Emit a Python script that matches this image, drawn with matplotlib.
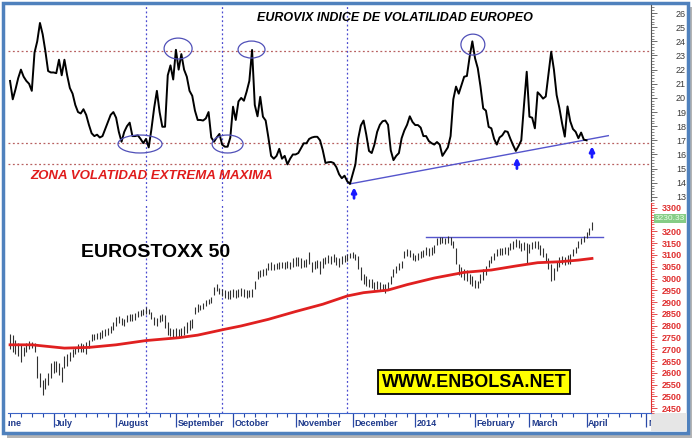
import numpy as np
import matplotlib
matplotlib.use("Agg")
import matplotlib.pyplot as plt
from matplotlib.patches import Ellipse, Rectangle
from matplotlib.ticker import AutoMinorLocator
import matplotlib.transforms as mtransforms

plt.rcParams["font.family"] = ["Liberation Sans", "DejaVu Sans"]

# first trading day shown; every series below is one value per trading day from here
start = "2013-06-07"

vix = [
    21.2, 19.9, 20.6, 21.4, 22.0, 21.5, 21.2, 21.0, 20.5, 23.2,
    24.0, 25.3, 24.5, 23.3, 21.9, 21.8, 21.8, 21.75, 22.7, 21.6,
    22.7, 21.6, 20.7, 20.3, 19.5, 19.0, 18.9, 19.2, 18.8, 18.1,
    17.5, 17.3, 17.4, 17.2, 17.3, 17.8, 18.3, 18.8, 19.0, 18.6,
    17.6, 16.9, 17.6, 18.0, 18.25, 17.3, 17.3, 17.35, 17.1, 16.8,
    17.1, 16.5, 17.8, 19.3, 20.5, 19.0, 17.96, 17.96, 21.6, 22.3,
    21.3, 23.4, 22.0, 23.1, 22.0, 21.5, 20.5, 20.15, 19.1, 18.44,
    18.44, 18.4, 18.55, 19.0, 17.2, 16.9, 17.2, 17.45, 16.7, 16.55,
    16.55, 17.2, 19.38, 18.44, 19.75, 20.0, 19.8, 20.44, 21.2, 23.39,
    19.5, 18.7, 20.08, 18.67, 18.4, 17.2, 15.9, 15.7, 15.9, 16.4,
    15.7, 15.9, 15.3, 15.7, 16.0, 16.0, 16.1, 16.45, 16.79, 16.79,
    17.1, 17.2, 17.25, 17.25, 17.0, 16.3, 15.4, 15.45, 15.47, 15.4,
    15.1, 14.6, 14.32, 14.5, 14.1, 13.92, 14.6, 15.3, 17.1, 18.05,
    18.4, 17.4, 16.25, 16.1, 16.7, 17.6, 18.1, 18.35, 18.4, 18.1,
    16.3, 15.6, 15.9, 16.1, 17.15, 17.7, 18.1, 18.7, 18.3, 18.08,
    18.08, 17.9, 17.3, 17.3, 16.95, 16.8, 16.7, 16.88, 16.7, 15.9,
    16.2, 16.5, 17.3, 19.9, 20.8, 20.3, 20.9, 21.5, 21.55, 22.9,
    24.0, 22.8, 22.1, 20.8, 19.26, 19.1, 17.95, 17.85, 17.1, 16.7,
    17.2, 17.35, 17.65, 17.6, 17.1, 16.65, 16.25, 16.6, 17.0, 19.5,
    21.85, 18.67, 18.6, 17.85, 20.4, 20.2, 19.95, 20.1, 21.7, 23.27,
    22.0, 20.2, 19.3, 18.2, 17.26, 19.4, 18.35, 17.8, 17.6, 17.15,
    17.55, 17.05, 17.0,
]

stoxx_high = [
    2765, 2760, 2740, 2725, 2720, 2710, 2728, 2735, 2730, 2725,
    2670, 2600, 2570, 2580, 2600, 2640, 2650, 2650, 2640, 2625,
    2670, 2680, 2690, 2700, 2710, 2722, 2725, 2722, 2730, 2740,
    2765, 2765, 2770, 2775, 2780, 2785, 2790, 2800, 2815, 2835,
    2840, 2832, 2830, 2845, 2848, 2850, 2855, 2862, 2868, 2870,
    2878, 2872, 2860, 2835, 2832, 2845, 2850, 2845, 2815, 2790,
    2785, 2790, 2788, 2790, 2800, 2815, 2825, 2830, 2880, 2890,
    2888, 2895, 2910, 2915, 2920, 2965, 2975, 2960, 2955, 2950,
    2945, 2950, 2955, 2952, 2955, 2958, 2955, 2950, 2952, 2955,
    2990, 3030, 3035, 3040, 3045, 3065, 3068, 3062, 3065, 3068,
    3072, 3070, 3075, 3072, 3085, 3090, 3092, 3085, 3080, 3082,
    3112, 3070, 3075, 3080, 3075, 3085, 3092, 3098, 3095, 3102,
    3092, 3085, 3095, 3100, 3105, 3110, 3112, 3105, 3095, 3050,
    3020, 3010, 3000, 2998, 2985, 2990, 2985, 2978, 2975, 2985,
    3010, 3040, 3055, 3065, 3075, 3115, 3125, 3120, 3110, 3100,
    3108, 3115, 3122, 3135, 3130, 3132, 3140, 3172, 3178, 3175,
    3172, 3180, 3175, 3160, 3130, 3060, 3050, 3040, 3035, 3020,
    3010, 2995, 2990, 3020, 3040, 3055, 3080, 3095, 3110, 3125,
    3130, 3128, 3135, 3132, 3150, 3160, 3168, 3165, 3150, 3155,
    3150, 3145, 3155, 3160, 3158, 3140, 3130, 3110, 3085, 3060,
    3045, 3070, 3090, 3095, 3092, 3098, 3105, 3125, 3135, 3160,
    3172, 3180, 3195, 3215, 3238,
]

stoxx_low = [
    2700, 2690, 2680, 2670, 2645, 2670, 2690, 2700, 2705, 2690,
    2580, 2540, 2505, 2530, 2550, 2580, 2600, 2605, 2590, 2560,
    2620, 2630, 2650, 2668, 2680, 2690, 2690, 2690, 2680, 2705,
    2735, 2740, 2742, 2745, 2748, 2755, 2760, 2770, 2780, 2800,
    2810, 2805, 2800, 2815, 2818, 2820, 2825, 2835, 2840, 2845,
    2850, 2848, 2830, 2805, 2800, 2815, 2820, 2790, 2760, 2755,
    2750, 2752, 2750, 2755, 2760, 2770, 2780, 2790, 2850, 2860,
    2865, 2870, 2885, 2890, 2895, 2930, 2945, 2935, 2925, 2918,
    2912, 2915, 2920, 2918, 2922, 2925, 2920, 2918, 2920, 2922,
    2955, 3000, 3005, 3010, 3015, 3035, 3038, 3035, 3040, 3040,
    3045, 3040, 3045, 3042, 3050, 3052, 3055, 3045, 3050, 3048,
    3060, 3028, 3040, 3045, 3020, 3045, 3060, 3065, 3060, 3070,
    3058, 3050, 3062, 3068, 3075, 3085, 3088, 3080, 3040, 2995,
    2975, 2970, 2962, 2958, 2950, 2955, 2950, 2945, 2940, 2950,
    2975, 3005, 3025, 3035, 3045, 3085, 3095, 3090, 3078, 3075,
    3080, 3085, 3090, 3100, 3095, 3100, 3110, 3140, 3148, 3150,
    3145, 3150, 3140, 3130, 3060, 3015, 3005, 2995, 2990, 2975,
    2968, 2960, 2958, 2980, 2995, 3015, 3050, 3065, 3080, 3095,
    3100, 3098, 3105, 3100, 3120, 3125, 3135, 3130, 3115, 3120,
    3065, 3110, 3125, 3128, 3125, 3100, 3090, 3070, 3040, 2990,
    2995, 3030, 3050, 3060, 3058, 3060, 3060, 3095, 3110, 3130,
    3145, 3155, 3170, 3185, 3205,
]

ma_dates = [
    "2013-06-07", "2013-06-19", "2013-07-05", "2013-07-18", "2013-08-01",
    "2013-08-16", "2013-09-03", "2013-09-12", "2013-09-26", "2013-10-04",
    "2013-10-18", "2013-11-01", "2013-11-15", "2013-11-28", "2013-12-06",
    "2013-12-19", "2013-12-30", "2014-01-13", "2014-01-28", "2014-02-11",
    "2014-02-24", "2014-03-06", "2014-03-18", "2014-03-27", "2014-04-03",
]
ma_vals = [
    2719, 2719, 2705, 2708, 2719, 2737, 2749, 2760, 2785, 2799,
    2827, 2860, 2891, 2926, 2940, 2951, 2974, 3002, 3026, 3036,
    3053, 3067, 3071, 3078, 3085,
]

vix_levels = [23.3, 16.8, 15.35]
vix_trend_dates = ["2013-11-29", "2014-04-11"]
vix_trend_vals = [13.92, 17.33]
stoxx_resist_dates = ["2014-01-08", "2014-04-09"]
stoxx_resist = 3175
marker_dates = ["2013-08-16", "2013-09-25", "2013-11-28"]
last_price = "3230.33"

month_starts = ["2013-06-03", "2013-07-01", "2013-08-01", "2013-09-02",
                "2013-10-01", "2013-11-01", "2013-12-02", "2014-01-02",
                "2014-02-03", "2014-03-03", "2014-04-01", "2014-05-01"]
month_labels = ["June", "July", "August", "September", "October", "November",
                "December", "2014", "February", "March", "April", "May"]


def pos(dates):
    return np.busday_count(start, np.array(dates, dtype="datetime64[D]"))


W, H = 699, 440


def fx(p):
    return p / W


def fy(p):
    return 1 - p / H


fig = plt.figure(figsize=(W / 100, H / 100), dpi=100)
fig.patch.set_facecolor("white")
fig.patches.append(Rectangle((fx(7), fy(438)), fx(692) - fx(7), fy(7) - fy(438),
                             transform=fig.transFigure, facecolor="#b4b4b4",
                             edgecolor="none", zorder=-3))
fig.patches.append(Rectangle((fx(3), fy(433)), fx(688) - fx(3), fy(3) - fy(433),
                             transform=fig.transFigure, facecolor="white",
                             edgecolor="#4f81bd", lw=2.5, zorder=-2))
fig.patches.append(Rectangle((fx(651), fy(431)), fx(687) - fx(651), fy(413) - fy(431),
                             transform=fig.transFigure, facecolor="#e6e6e6",
                             edgecolor="none", zorder=-1))

xl = (-0.75, 235.7)
ax1 = fig.add_axes([fx(8), fy(201), fx(651) - fx(8), fy(5) - fy(201)])
ax2 = fig.add_axes([fx(8), fy(413), fx(651) - fx(8), fy(203) - fy(413)])
ax3 = fig.add_axes([fx(8), fy(431), fx(651) - fx(8), fy(413) - fy(431)])

for ax in (ax1, ax2, ax3):
    ax.set_xlim(*xl)
    ax.set_xticks([])
    for s in ("top", "left", "bottom"):
        ax.spines[s].set_visible(False)
    ax.patch.set_alpha(0)

# ---- top panel: EUROVIX ----
ax1.set_ylim(12.71, 26.57)
ax1.yaxis.tick_right()
ax1.set_yticks(range(13, 27))
ax1.yaxis.set_minor_locator(AutoMinorLocator(5))
ax1.spines["right"].set_color("#555555")
ax1.tick_params(axis="y", which="major", length=4, width=0.6, color="#555555",
                labelcolor="#3a3a3a", labelsize=6.5, pad=14)
ax1.tick_params(axis="y", which="minor", length=2, width=0.5, color="#555555")

for lv in vix_levels:
    ax1.axhline(lv, color="#b86060", lw=0.9, ls=(0, (1.5, 2)))
for d in pos(marker_dates):
    ax1.axvline(d, color="#4a4ad0", lw=0.9, ls=(0, (1.5, 2)))
    ax2.axvline(d, color="#4a4ad0", lw=0.9, ls=(0, (1.5, 2)))

ax1.plot(np.arange(len(vix)), vix, color="black", lw=1.4, zorder=4)
ax1.plot(pos(vix_trend_dates), vix_trend_vals, color="#5555cc", lw=1.0, zorder=3)

for cx, cy, w, h in [(47.8, 16.74, 16.2, 1.27), (61.8, 23.49, 10.3, 1.48),
                     (80.0, 16.74, 11.4, 1.27), (88.8, 23.42, 9.9, 1.2),
                     (170.2, 23.77, 8.8, 1.48)]:
    ax1.add_patch(Ellipse((cx, cy), w, h, fill=False, edgecolor="#5050b8", lw=0.9, zorder=5))

for ax_x, ax_y in [(126.5, 13.3), (186.4, 15.4), (214.0, 16.2)]:
    ax1.annotate("", xy=(ax_x, ax_y + 0.38), xytext=(ax_x, ax_y - 0.4),
                 arrowprops=dict(arrowstyle="-|>", color="#1a1aff", lw=2.0,
                                 mutation_scale=7, shrinkA=0, shrinkB=0))

# ---- bottom panel: EUROSTOXX 50 ----
ax2.set_ylim(2430, 3320)
ax2.yaxis.tick_right()
stoxx_ticks = list(range(2450, 3301, 50))
ax2.set_yticks(stoxx_ticks)
# the 3250 label sits under the last-price box in the original
ax2.set_yticklabels(["" if t == 3250 else str(t) for t in stoxx_ticks])
ax2.yaxis.set_minor_locator(AutoMinorLocator(5))
ax2.spines["right"].set_color("#e03030")
ax2.tick_params(axis="y", which="major", length=4, width=0.6, color="#e03030",
                labelcolor="#e03030", labelsize=6.5, pad=4)
ax2.tick_params(axis="y", which="minor", length=2, width=0.5, color="#e03030")
for t in ax2.get_yticklabels():
    t.set_fontweight("bold")

xs = np.arange(len(stoxx_high))
ax2.vlines(xs, stoxx_low, stoxx_high, color="#303030", lw=0.8, zorder=3)
ax2.plot(pos(ma_dates), ma_vals, color="#e02020", lw=2.0, zorder=4)
ax2.plot(pos(stoxx_resist_dates), [stoxx_resist] * 2, color="#5555cc", lw=1.0, zorder=2)

tr = mtransforms.blended_transform_factory(ax2.transAxes, ax2.transData)
ax2.text(1.006, 3254, last_price, transform=tr, ha="left", va="center", fontsize=6,
         color="#e6ffe6", clip_on=False, zorder=6,
         bbox=dict(boxstyle="square,pad=0.12", facecolor="#86cc86", edgecolor="none"))

# ---- date strip ----
ax3.set_ylim(0, 1)
ax3.set_yticks([])
ax3.spines["right"].set_visible(False)
ax3.spines["top"].set_visible(True)
ax3.spines["top"].set_color("#3c64c8")
mpos = pos(month_starts)
ax3.vlines(mpos, 0.25, 1, color="#2a4aa8", lw=0.9)
minor = [p + k * 4 for p, q in zip(mpos[:-1], mpos[1:]) for k in range(1, 6) if p + k * 4 < q - 1]
ax3.vlines(minor, 0.78, 1, color="#2a4aa8", lw=0.8)
for p, lab in zip(mpos, month_labels):
    ax3.text(p + 0.6, 0.42, lab, ha="left", va="center", fontsize=6.5,
             fontweight="bold", color="#1f3a8c", clip_on=True)

# ---- texts ----
fig.text(fx(395), fy(18), "EUROVIX INDICE DE VOLATILIDAD EUROPEO", ha="center", va="center",
         fontsize=9, fontweight="bold", fontstyle="italic", color="black")
fig.text(fx(152), fy(176), "ZONA VOLATIDAD EXTREMA MAXIMA", ha="center", va="center",
         fontsize=9.5, fontweight="bold", fontstyle="italic", color="#e01c1c")
fig.text(fx(156), fy(252), "EUROSTOXX 50", ha="center", va="center",
         fontsize=14, fontweight="bold", color="black")
fig.text(fx(474), fy(382), "WWW.ENBOLSA.NET", ha="center", va="center",
         fontsize=13, fontweight="bold", color="black",
         bbox=dict(boxstyle="square,pad=0.2", facecolor="#ffff00", edgecolor="black", lw=1.3))

fig.savefig("out.png", dpi=100)
